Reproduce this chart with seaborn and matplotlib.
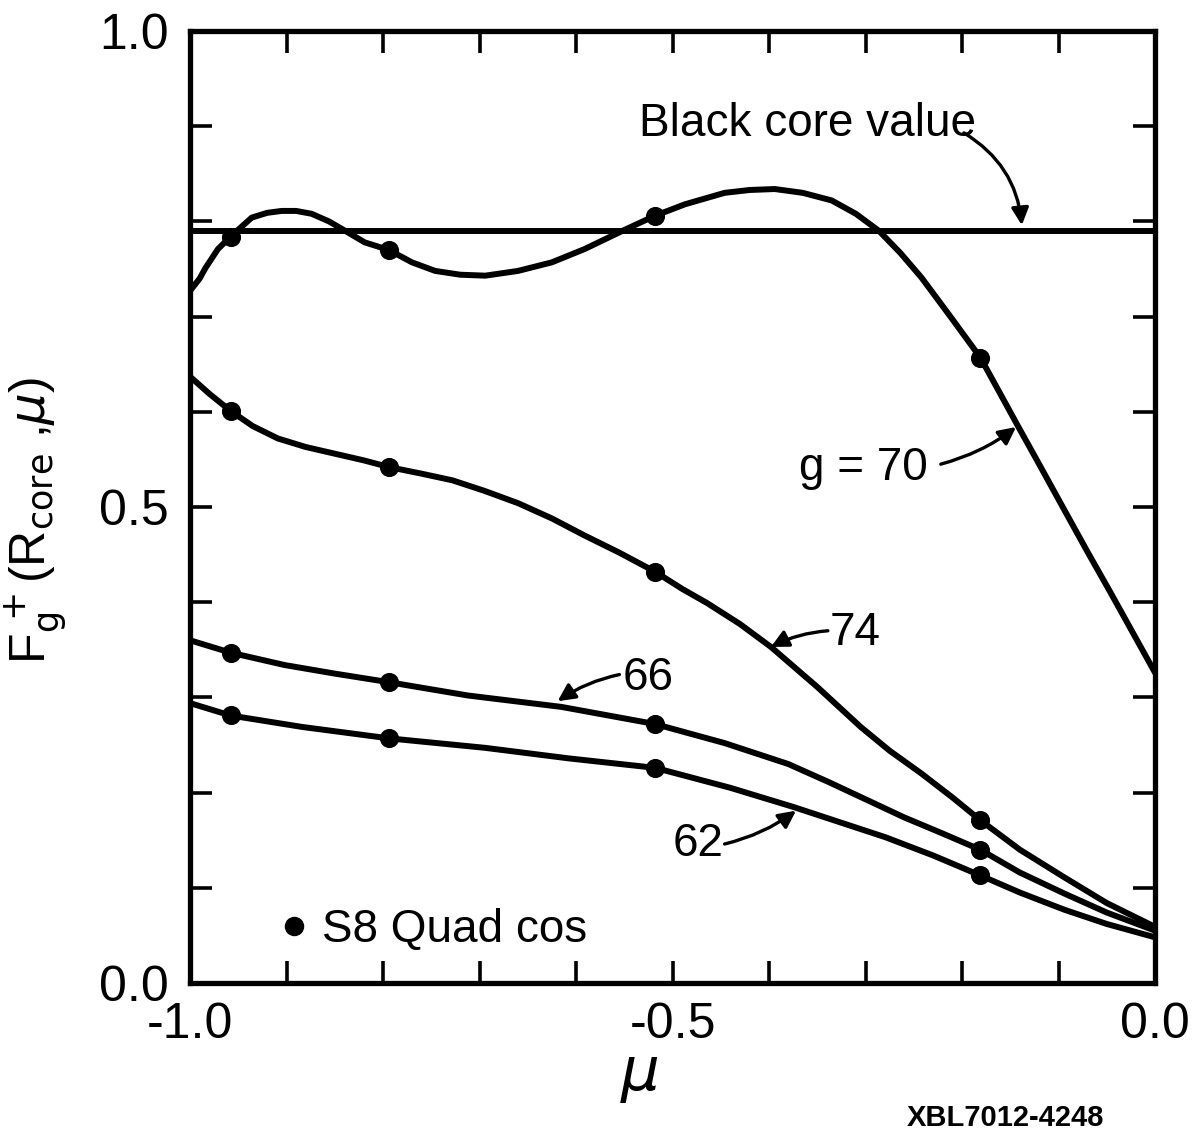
import numpy as np
import pandas as pd
import matplotlib
matplotlib.use("Agg")
import matplotlib.pyplot as plt
from matplotlib.lines import Line2D
import seaborn as sns

# Quadrature directions (mu) at which the S8 results are marked
quad_mu = [-0.958, -0.794, -0.518, -0.181]

# Angular flux curves F_g^+(R_core, mu), one per energy group g
mu_g70 = [-1.0, -0.990, -0.984, -0.971, -0.958, -0.936, -0.920, -0.905, -0.890,
          -0.874, -0.856, -0.839, -0.819, -0.794, -0.770, -0.746, -0.720, -0.694,
          -0.660, -0.625, -0.591, -0.552, -0.518, -0.487, -0.446, -0.420, -0.394,
          -0.365, -0.335, -0.310, -0.286, -0.264, -0.242, -0.212, -0.181, -0.162,
          -0.142, -0.119, -0.094, -0.070, -0.046, -0.023, 0.0]
F_g70 = [0.727, 0.740, 0.751, 0.771, 0.784, 0.804, 0.809, 0.811, 0.811,
         0.808, 0.800, 0.790, 0.778, 0.770, 0.757, 0.748, 0.744, 0.743,
         0.748, 0.757, 0.771, 0.790, 0.806, 0.818, 0.830, 0.833, 0.834,
         0.830, 0.822, 0.808, 0.790, 0.767, 0.741, 0.700, 0.657, 0.622,
         0.585, 0.543, 0.497, 0.453, 0.410, 0.368, 0.326]

mu_g74 = [-1.0, -0.980, -0.958, -0.935, -0.909, -0.880, -0.850, -0.820, -0.794,
          -0.760, -0.728, -0.695, -0.660, -0.625, -0.591, -0.555, -0.518, -0.490,
          -0.464, -0.430, -0.398, -0.350, -0.305, -0.275, -0.242, -0.210, -0.181,
          -0.140, -0.094, -0.050, 0.0]
F_g74 = [0.637, 0.619, 0.601, 0.585, 0.572, 0.563, 0.556, 0.549, 0.542,
         0.535, 0.528, 0.517, 0.504, 0.488, 0.470, 0.452, 0.432, 0.414,
         0.399, 0.377, 0.353, 0.311, 0.269, 0.244, 0.220, 0.195, 0.171,
         0.140, 0.111, 0.084, 0.059]

mu_g66 = [-1.0, -0.958, -0.902, -0.850, -0.794, -0.712, -0.615, -0.518, -0.446,
          -0.380, -0.338, -0.300, -0.260, -0.220, -0.181, -0.140, -0.094, -0.050,
          0.0]
F_g66 = [0.360, 0.347, 0.334, 0.325, 0.316, 0.302, 0.290, 0.272, 0.252,
         0.230, 0.211, 0.193, 0.174, 0.157, 0.140, 0.116, 0.094, 0.074,
         0.055]

mu_g62 = [-1.0, -0.958, -0.884, -0.794, -0.694, -0.608, -0.518, -0.440, -0.375,
          -0.330, -0.279, -0.230, -0.181, -0.140, -0.094, -0.050, 0.0]
F_g62 = [0.294, 0.281, 0.269, 0.257, 0.247, 0.236, 0.226, 0.205, 0.185,
         0.170, 0.153, 0.134, 0.113, 0.095, 0.077, 0.062, 0.048]

black_core_value = 0.790

x_tick_values = [round(-1.0 + 0.1 * i, 1) for i in range(11)]
y_tick_values = [round(0.1 * i, 1) for i in range(11)]
x_tick_labels = {-1.0: "-1.0", -0.5: "-0.5", 0.0: "0.0"}
y_tick_labels = {0.0: "0.0", 0.5: "0.5", 1.0: "1.0"}

frames = []
for g, mu, F in [(70, mu_g70, F_g70), (74, mu_g74, F_g74),
                 (66, mu_g66, F_g66), (62, mu_g62, F_g62)]:
    frames.append(pd.DataFrame({"mu": mu, "F": F, "g": g}))
df = pd.concat(frames, ignore_index=True)
marks = df[df["mu"].isin(quad_mu)]

sns.set_theme(style="ticks")
plt.rcParams["font.family"] = ["Liberation Sans", "DejaVu Sans"]
plt.rcParams["mathtext.fontset"] = "dejavusans"
plt.rcParams["text.color"] = "black"
plt.rcParams["axes.labelcolor"] = "black"

fig = plt.figure(figsize=(11.95, 11.32), dpi=100)
ax = fig.add_axes([190 / 1195, 1 - 983 / 1132, 965 / 1195, 952 / 1132])

lw = 4.3
sns.lineplot(data=df, x="mu", y="F", hue="g", palette=["black"] * 4,
             estimator=None, sort=False, linewidth=lw, legend=False, ax=ax,
             solid_capstyle="round", solid_joinstyle="round")
sns.scatterplot(data=marks, x="mu", y="F", color="black", s=190,
                edgecolor="black", linewidth=0, legend=False, ax=ax, zorder=5)
ax.axhline(black_core_value, color="black", linewidth=lw)

ax.set_xlim(-1.0, 0.0)
ax.set_ylim(0.0, 1.0)

ax.set_xticks(x_tick_values)
ax.set_xticklabels([x_tick_labels.get(v, "") for v in x_tick_values])
ax.set_yticks(y_tick_values)
ax.set_yticklabels([y_tick_labels.get(v, "") for v in y_tick_values])
ax.tick_params(axis="both", which="major", direction="in", length=16, width=2.6,
               top=True, right=True, labelsize=36, color="black", labelcolor="black")
ax.tick_params(axis="x", pad=14)
ax.tick_params(axis="y", pad=15)
for side in ax.spines.values():
    side.set_linewidth(3.8)
    side.set_color("black")

ax.set_xlabel(r"$\mu$", fontsize=44)
ax.xaxis.set_label_coords(0.466, -0.068)
ax.set_ylabel(r"F$_{\mathrm{g}}^{\,+}$(R$_{\mathrm{core}}$ ,$\mu$)", fontsize=36)
ax.yaxis.set_label_coords(-0.125, 0.486)

txt = 33
arrow = dict(arrowstyle="-|>", color="black", lw=2.4, mutation_scale=26,
             shrinkA=0, shrinkB=0)

ax.text(-0.185, 0.902, "Black core value", fontsize=txt, ha="right", va="center")
ax.annotate("", xy=(-0.138, black_core_value + 0.006), xytext=(-0.198, 0.893),
            arrowprops=dict(arrow, connectionstyle="arc3,rad=-0.25"))

ax.text(-0.235, 0.541, "g = 70", fontsize=txt, ha="right", va="center")
ax.annotate("", xy=(-0.144, 0.584), xytext=(-0.222, 0.545),
            arrowprops=dict(arrow, connectionstyle="arc3,rad=0.1"))

ax.text(-0.337, 0.368, "74", fontsize=txt, ha="left", va="center")
ax.annotate("", xy=(-0.398, 0.353), xytext=(-0.339, 0.370),
            arrowprops=dict(arrow, connectionstyle="arc3,rad=0.1"))

ax.text(-0.552, 0.320, "66", fontsize=txt, ha="left", va="center")
ax.annotate("", xy=(-0.619, 0.296), xytext=(-0.555, 0.324),
            arrowprops=dict(arrow, connectionstyle="arc3,rad=0.1"))

ax.text(-0.447, 0.146, "62", fontsize=txt, ha="right", va="center")
ax.annotate("", xy=(-0.372, 0.181), xytext=(-0.446, 0.146),
            arrowprops=dict(arrow, connectionstyle="arc3,rad=0.1"))

handle = Line2D([], [], linestyle="none", marker="o", markersize=13,
                color="black")
ax.legend([handle], ["S8 Quad cos"], loc="center left",
          bbox_to_anchor=(0.096, 0.0556), frameon=False, fontsize=txt,
          handlelength=0.5, handletextpad=0.35, borderpad=0, borderaxespad=0)

fig.text(1005 / 1195, 1 - 1118 / 1132, "XBL7012-4248", fontsize=21,
         fontweight="bold", ha="center", va="center")

fig.savefig("out.png", dpi=100, facecolor="white")
